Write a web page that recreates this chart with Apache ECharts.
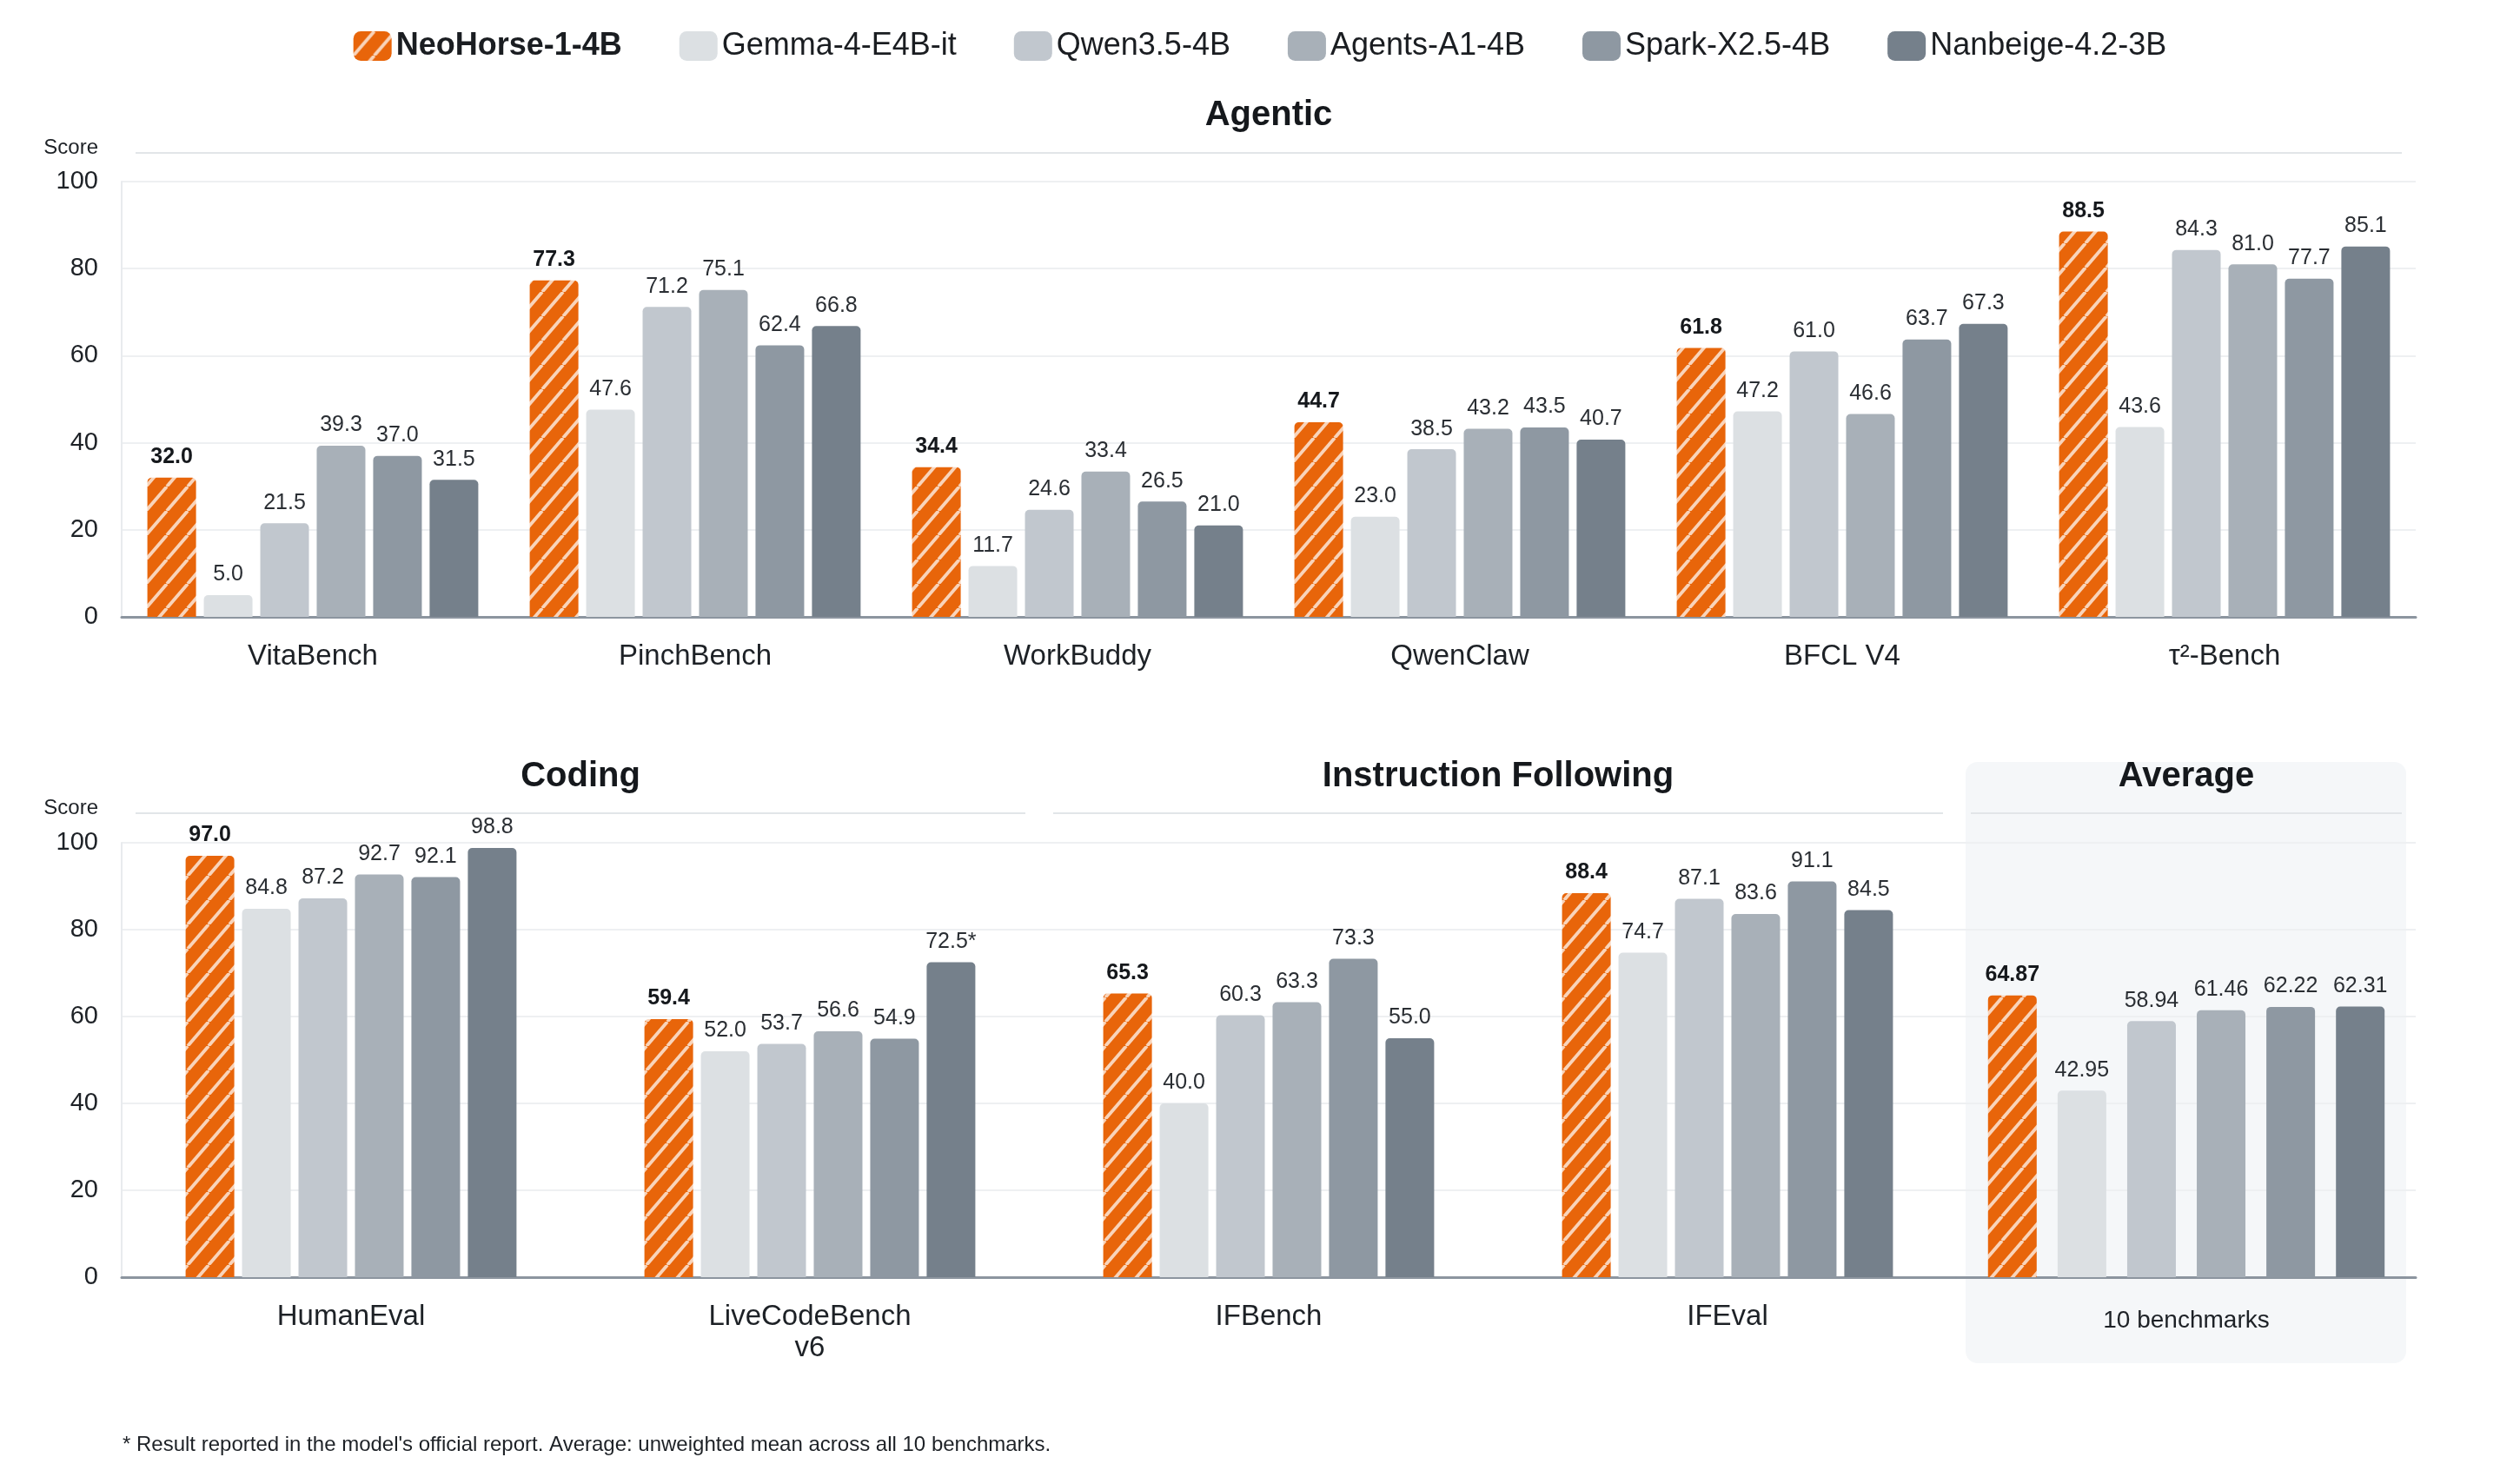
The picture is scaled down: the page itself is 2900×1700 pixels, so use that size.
<!DOCTYPE html>
<html><head><meta charset="utf-8">
<script src="https://cdn.jsdelivr.net/npm/echarts@6/dist/echarts.min.js"></script>
<style>html,body{margin:0;padding:0;background:#fff}#chart{width:2900px;height:1700px}</style>
</head><body><div id="chart"></div>
<script>
const models = ['NeoHorse-1-4B', 'Gemma-4-E4B-it', 'Qwen3.5-4B', 'Agents-A1-4B', 'Spark-X2.5-4B', 'Nanbeige-4.2-3B'];
const agenticCategories = ['VitaBench', 'PinchBench', 'WorkBuddy', 'QwenClaw', 'BFCL V4', 'τ²-Bench'];
const lowerCategories = ['HumanEval', 'LiveCodeBench\nv6', 'IFBench', 'IFEval'];
const averageCategories = ['10 benchmarks'];
const sectionTitles = ['Agentic', 'Coding', 'Instruction Following', 'Average'];
const footnote = "* Result reported in the model's official report. Average: unweighted mean across all 10 benchmarks.";

// order: 6 agentic, 4 coding/IF, 1 average
const neoHorseScores = [32.0, 77.3, 34.4, 44.7, 61.8, 88.5, 97.0, 59.4, 65.3, 88.4, 64.87];
const gemmaScores    = [5.0, 47.6, 11.7, 23.0, 47.2, 43.6, 84.8, 52.0, 40.0, 74.7, 42.95];
const qwenScores     = [21.5, 71.2, 24.6, 38.5, 61.0, 84.3, 87.2, 53.7, 60.3, 87.1, 58.94];
const agentsScores   = [39.3, 75.1, 33.4, 43.2, 46.6, 81.0, 92.7, 56.6, 63.3, 83.6, 61.46];
const sparkScores    = [37.0, 62.4, 26.5, 43.5, 63.7, 77.7, 92.1, 54.9, 73.3, 91.1, 62.22];
const nanbeigeScores = [31.5, 66.8, 21.0, 40.7, 67.3, 85.1, 98.8, 72.5, 55.0, 84.5, 62.31];
const allScores = [neoHorseScores, gemmaScores, qwenScores, agentsScores, sparkScores, nanbeigeScores];
const officialReportCells = [['Nanbeige-4.2-3B', 'LiveCodeBench\nv6']];

const FONT = '"Liberation Sans", Arial, Helvetica, sans-serif';
const greys = ['#DCE0E3', '#C1C7CE', '#A8B0B8', '#8E98A2', '#75808B'];

function stripePattern() {
  const w = 24, h = 28;
  const c = document.createElement('canvas');
  c.width = w; c.height = h;
  const g = c.getContext('2d');
  g.fillStyle = '#E8650A';
  g.fillRect(0, 0, w, h);
  g.strokeStyle = 'rgba(255,255,255,0.72)';
  g.lineWidth = 3.8;
  for (const dx of [-w, 0, w]) {
    g.beginPath(); g.moveTo(dx, h); g.lineTo(dx + w, 0); g.stroke();
  }
  return c;
}
const orangeFill = { image: stripePattern(), repeat: 'repeat' };

const chart = echarts.init(document.getElementById('chart'), null, { renderer: 'canvas' });

const grids = [
  { left: 140, width: 2640, top: 209, height: 501 },
  { left: 140, width: 2112, top: 970, height: 500 },
  { left: 2252, width: 528, top: 970, height: 500 }
];
const catSets = [agenticCategories, lowerCategories, averageCategories];
const sliceRanges = [[0, 6], [6, 10], [10, 11]];

const xAxes = catSets.map((cats, i) => ({
  type: 'category', gridIndex: i, data: cats,
  axisTick: { show: false },
  axisLine: { show: true, lineStyle: { color: '#8C959F', width: 3 } },
  axisLabel: {
    interval: 0, margin: i === 2 ? 32 : 28, color: '#1d2126',
    fontSize: i === 2 ? 28 : 33, fontFamily: FONT, lineHeight: 36
  }
}));
const yAxes = [0, 1, 2].map(i => ({
  type: 'value', gridIndex: i, min: 0, max: 100, interval: 20,
  axisLine: { show: i !== 2, lineStyle: { color: '#E8EBEE', width: 2 } },
  axisTick: { show: false },
  axisLabel: { show: i !== 2, fontSize: 29, color: '#1d2126', margin: 27, fontFamily: FONT },
  splitLine: { show: true, lineStyle: { color: '#EEF0F2', width: 2 } }
}));

const series = [];
models.forEach((m, mi) => {
  [0, 1, 2].forEach(gi => {
    const [a, b] = sliceRanges[gi];
    const vals = allScores[mi].slice(a, b);
    const cats = catSets[gi];
    series.push({
      name: m, type: 'bar', xAxisIndex: gi, yAxisIndex: gi,
      data: vals,
      barWidth: 56,
      barGap: gi === 2 ? '43%' : '16%',
      itemStyle: { color: mi === 0 ? orangeFill : greys[mi - 1], borderRadius: [5, 5, 0, 0] },
      label: {
        show: true, position: 'top', distance: 11,
        fontSize: 25, fontFamily: FONT,
        fontWeight: mi === 0 ? 'bold' : 'normal',
        color: mi === 0 ? '#15181c' : '#2a2e33',
        formatter: p => {
          let s = gi === 2 ? p.value.toFixed(2) : p.value.toFixed(1);
          if (officialReportCells.some(c => c[0] === m && c[1] === cats[p.dataIndex])) s += '*';
          return s;
        }
      },
      emphasis: { disabled: true }
    });
  });
});

function title(text, cx, cy) {
  return { type: 'text', x: cx, y: cy, style: { text, align: 'center', verticalAlign: 'middle', fontSize: 40, fontWeight: 'bold', fontFamily: FONT, fill: '#15181c' } };
}
function divider(x1, x2, y) {
  return { type: 'line', shape: { x1, y1: y, x2, y2: y }, style: { stroke: '#E2E5E8', lineWidth: 2 } };
}
function small(text, x, y, align, size) {
  return { type: 'text', x, y, style: { text, align, verticalAlign: 'middle', fontSize: size, fontFamily: FONT, fill: '#1d2126' } };
}

const option = {
  animation: false,
  backgroundColor: '#ffffff',
  legend: {
    top: 30, left: 'center', itemWidth: 44, itemHeight: 34, itemGap: 66,
    icon: 'roundRect', selectedMode: false,
    textStyle: { fontSize: 36, fontFamily: FONT, color: '#1a1d21' },
    data: models.map((m, i) => i === 0 ? { name: m, textStyle: { fontWeight: 'bold' } } : { name: m })
  },
  grid: grids,
  xAxis: xAxes,
  yAxis: yAxes,
  series,
  graphic: [
    { type: 'rect', z: -1, silent: true, shape: { x: 2262, y: 877, width: 507, height: 692, r: 14 }, style: { fill: '#F5F7F9' } },
    title(sectionTitles[0], 1460, 133),
    title(sectionTitles[1], 668, 894),
    title(sectionTitles[2], 1724, 894),
    title(sectionTitles[3], 2516, 894),
    divider(156, 2764, 176),
    divider(156, 1180, 936),
    divider(1212, 2236, 936),
    divider(2268, 2764, 936),
    small('Score', 113, 170, 'right', 24),
    small('Score', 113, 930, 'right', 24),
    small(footnote, 141, 1663, 'left', 24)
  ]
};
chart.setOption(option);
</script>
</body></html>
